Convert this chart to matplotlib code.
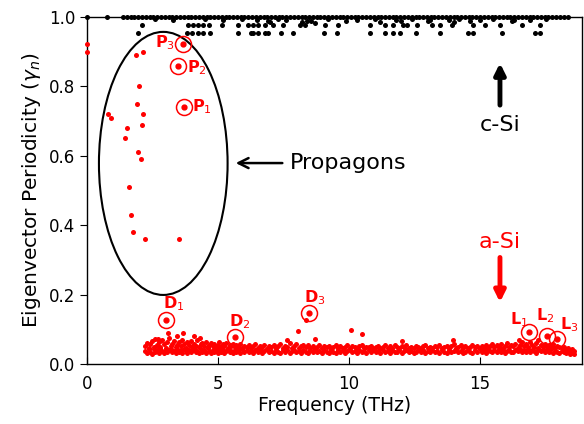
import numpy as np
import matplotlib.pyplot as plt
from matplotlib.patches import Ellipse

# c-Si modes: nearly all sit at gamma = 1
csi_top_freq = [0.0, 0.76, 1.37, 1.52, 1.66, 1.81, 1.95, 2.10, 2.24, 2.39, 2.53, 2.68, 2.82, 2.97,
                3.11, 3.26, 3.40, 3.55, 3.69, 3.84, 3.98, 4.13, 4.27, 4.42, 4.56, 4.71, 4.85, 5.00,
                5.14, 5.29, 5.43, 5.58, 5.72, 5.87, 6.01, 6.16, 6.30, 6.45, 6.59, 6.74, 6.88, 7.03,
                7.17, 7.32, 7.46, 7.61, 7.75, 7.90, 8.04, 8.19, 8.33, 8.48, 8.62, 8.77, 8.91, 9.06,
                9.20, 9.35, 9.49, 9.64, 9.78, 9.93, 10.07, 10.22, 10.36, 10.51, 10.65, 10.80, 10.94,
                11.09, 11.23, 11.38, 11.52, 11.67, 11.81, 11.96, 12.10, 12.25, 12.39, 12.54, 12.68,
                12.83, 12.97, 13.12, 13.26, 13.41, 13.55, 13.70, 13.84, 13.99, 14.13, 14.28, 14.42,
                14.57, 14.71, 14.86, 15.00, 15.15, 15.29, 15.44, 15.58, 15.73, 15.87, 16.02, 16.16,
                16.31, 16.45, 16.60, 16.74, 16.89, 17.03, 17.18, 17.32, 17.47, 17.61, 17.76, 17.90,
                18.05, 18.19, 18.34]
csi_top_gamma = 1.0

csi_near_freq = [2.6, 3.3, 4.5, 5.2, 5.9, 6.5, 6.9, 7.0, 7.3, 7.6, 8.2, 8.4, 8.55, 8.7, 9.2, 9.9,
                 10.3, 11.0, 11.2, 11.8, 12.0, 12.4, 13.0, 13.1, 13.8, 14.0, 14.2, 14.6, 15.0,
                 15.5, 16.2, 16.3, 16.9, 17.5]
csi_near_gamma = [0.993, 0.990, 0.993, 0.991, 0.994, 0.992, 0.988, 0.985, 0.993, 0.990, 0.986,
                  0.989, 0.987, 0.984, 0.993, 0.988, 0.990, 0.993, 0.986, 0.991, 0.988, 0.993,
                  0.987, 0.992, 0.990, 0.985, 0.993, 0.988, 0.991, 0.993, 0.987, 0.992, 0.990,
                  0.993]

csi_row2_freq = [2.10, 3.85, 4.05, 4.24, 4.43, 4.66, 5.15, 5.76, 6.15, 6.34, 6.53, 6.79, 7.10,
                 7.48, 8.13, 8.32, 9.08, 9.58, 10.80, 11.37, 11.68, 12.06, 12.21, 12.60, 13.17,
                 13.47, 13.93, 14.73, 15.19, 15.76, 16.60, 17.29]
csi_row2_gamma = 0.978

csi_row3_freq = [1.95, 3.82, 4.00, 4.24, 4.43, 4.69, 5.76, 6.26, 6.34, 6.53, 6.79, 6.91, 7.40,
                 7.86, 9.05, 9.54, 10.80, 11.37, 11.68, 11.95, 12.56, 13.47, 14.54, 14.73, 15.84,
                 17.10, 17.29]
csi_row3_gamma = 0.955

# a-Si propagons (low frequency, high periodicity)
prop_freq = [0.0, 0.0, 1.87, 2.15, 1.98, 1.91, 0.79, 0.92, 2.15, 2.11, 1.51, 1.44, 1.96, 2.07,
             1.59, 1.67, 1.76, 2.21, 3.51, 3.68, 3.49, 3.69]
prop_gamma = [0.922, 0.900, 0.890, 0.900, 0.800, 0.750, 0.720, 0.710, 0.720, 0.690, 0.680, 0.650,
              0.610, 0.590, 0.510, 0.430, 0.380, 0.360, 0.360, 0.921, 0.859, 0.741]

# a-Si diffusons / locons band
asi_freq = [2.21, 2.28, 2.35, 2.40, 2.47, 2.55, 2.60, 2.68, 2.74, 2.80, 2.87, 2.93, 3.00, 3.06, 3.12, 3.19, 3.25, 3.31, 3.38, 3.44,
            3.50, 3.57, 3.63, 3.70, 3.76, 3.82, 3.89, 3.95, 4.02, 4.08, 4.15, 4.21, 4.27, 4.34, 4.40, 4.47, 4.53, 4.60, 4.66, 4.72,
            4.79, 4.85, 4.92, 4.98, 5.05, 5.11, 5.18, 5.24, 5.31, 5.37, 5.44, 5.50, 5.57, 5.63, 5.70, 5.78, 5.85, 5.93, 6.01, 6.09,
            6.17, 6.26, 6.34, 6.43, 6.51, 6.60, 6.68, 6.77, 6.86, 6.94, 7.03, 7.12, 7.20, 7.29, 7.38, 7.47, 7.55, 7.64, 7.73, 7.82,
            7.90, 7.99, 8.08, 8.17, 8.25, 8.34, 8.43, 8.52, 8.61, 8.69, 8.78, 8.87, 8.96, 9.05, 9.14, 9.22, 9.31, 9.40, 9.49, 9.58,
            9.67, 9.76, 9.85, 9.94, 10.03, 10.12, 10.21, 10.30, 10.39, 10.48, 10.57, 10.66, 10.75, 10.84, 10.93, 11.02, 11.11, 11.20, 11.29, 11.38,
            11.47, 11.56, 11.65, 11.74, 11.83, 11.92, 12.01, 12.10, 12.19, 12.28, 12.37, 12.46, 12.55, 12.64, 12.73, 12.82, 12.91, 13.00, 13.09, 13.18,
            13.27, 13.36, 13.45, 13.54, 13.63, 13.72, 13.81, 13.90, 13.99, 14.08, 14.17, 14.26, 14.35, 14.44, 14.53, 14.62, 14.71, 14.80, 14.89, 14.98,
            15.07, 15.15, 15.23, 15.31, 15.39, 15.47, 15.55, 15.63, 15.71, 15.79, 15.87, 15.95, 16.03, 16.11, 16.19, 16.27, 16.35, 16.43, 16.51, 16.59,
            16.67, 16.75, 16.83, 16.91, 16.99, 17.07, 17.15, 17.23, 17.31, 17.39, 17.47, 17.55, 17.63, 17.71, 17.79, 17.87, 17.95, 18.03, 18.11, 18.19,
            18.27, 18.35, 18.43, 18.51, 18.58]
asi_gamma_hi = [0.052, 0.061, 0.047, 0.058, 0.066, 0.049, 0.071, 0.055, 0.063, 0.050, 0.068, 0.057, 0.046, 0.062, 0.074, 0.053, 0.059, 0.067, 0.048, 0.056,
                0.064, 0.051, 0.070, 0.058, 0.047, 0.062, 0.055, 0.066, 0.050, 0.059, 0.053, 0.068, 0.048, 0.057, 0.061, 0.052, 0.064, 0.049, 0.056, 0.060,
                0.051, 0.058, 0.047, 0.055, 0.062, 0.049, 0.057, 0.053, 0.060, 0.046, 0.056, 0.051, 0.059, 0.048, 0.054, 0.050, 0.057, 0.046, 0.053, 0.049,
                0.055, 0.047, 0.052, 0.058, 0.045, 0.051, 0.049, 0.056, 0.044, 0.053, 0.048, 0.055, 0.046, 0.051, 0.057, 0.045, 0.052, 0.049, 0.060, 0.047,
                0.053, 0.058, 0.046, 0.051, 0.056, 0.048, 0.054, 0.047, 0.052, 0.045, 0.050, 0.055, 0.046, 0.053, 0.048, 0.051, 0.044, 0.049, 0.054, 0.047,
                0.052, 0.045, 0.050, 0.056, 0.047, 0.053, 0.049, 0.045, 0.051, 0.055, 0.046, 0.050, 0.048, 0.053, 0.045, 0.049, 0.052, 0.046, 0.050, 0.054,
                0.047, 0.051, 0.045, 0.055, 0.049, 0.046, 0.052, 0.048, 0.054, 0.045, 0.050, 0.047, 0.053, 0.049, 0.045, 0.051, 0.056, 0.047, 0.050, 0.046,
                0.052, 0.048, 0.055, 0.046, 0.050, 0.053, 0.047, 0.051, 0.058, 0.045, 0.049, 0.054, 0.047, 0.052, 0.046, 0.050, 0.055, 0.048, 0.051, 0.046,
                0.053, 0.049, 0.056, 0.047, 0.052, 0.059, 0.048, 0.054, 0.050, 0.057, 0.046, 0.053, 0.060, 0.049, 0.055, 0.051, 0.058, 0.047, 0.054, 0.062,
                0.052, 0.058, 0.049, 0.064, 0.055, 0.050, 0.061, 0.047, 0.056, 0.052, 0.059, 0.048, 0.054, 0.050, 0.057, 0.046, 0.052, 0.049, 0.045, 0.050,
                0.044, 0.047, 0.041, 0.043, 0.038]
asi_gamma_lo = [0.038, 0.033, 0.042, 0.036, 0.030, 0.044, 0.035, 0.040, 0.032, 0.045, 0.037, 0.031, 0.041, 0.035, 0.039, 0.043, 0.034, 0.038, 0.031, 0.042,
                0.036, 0.040, 0.033, 0.044, 0.037, 0.031, 0.041, 0.035, 0.039, 0.043, 0.034, 0.038, 0.032, 0.042, 0.036, 0.040, 0.033, 0.045, 0.037, 0.031,
                0.041, 0.035, 0.039, 0.032, 0.043, 0.036, 0.040, 0.033, 0.038, 0.042, 0.034, 0.037, 0.031, 0.041, 0.035, 0.039, 0.032, 0.043, 0.036, 0.040,
                0.034, 0.038, 0.031, 0.041, 0.035, 0.039, 0.033, 0.037, 0.042, 0.034, 0.038, 0.031, 0.040, 0.036, 0.033, 0.039, 0.035, 0.041, 0.032, 0.037,
                0.040, 0.034, 0.038, 0.032, 0.041, 0.036, 0.033, 0.039, 0.035, 0.042, 0.034, 0.037, 0.031, 0.040, 0.036, 0.033, 0.039, 0.035, 0.032, 0.041,
                0.036, 0.039, 0.033, 0.037, 0.041, 0.034, 0.038, 0.032, 0.040, 0.035, 0.038, 0.033, 0.041, 0.036, 0.039, 0.034, 0.037, 0.031, 0.040, 0.035,
                0.038, 0.033, 0.040, 0.036, 0.034, 0.039, 0.032, 0.037, 0.041, 0.035, 0.038, 0.033, 0.036, 0.040, 0.034, 0.039, 0.032, 0.037, 0.035, 0.041,
                0.034, 0.038, 0.032, 0.040, 0.036, 0.033, 0.039, 0.035, 0.037, 0.041, 0.034, 0.038, 0.032, 0.036, 0.040, 0.035, 0.033, 0.039, 0.036, 0.042,
                0.035, 0.039, 0.033, 0.041, 0.037, 0.034, 0.040, 0.036, 0.043, 0.035, 0.039, 0.032, 0.038, 0.041, 0.036, 0.034, 0.040, 0.037, 0.043, 0.035,
                0.039, 0.036, 0.042, 0.034, 0.040, 0.037, 0.033, 0.041, 0.038, 0.044, 0.035, 0.039, 0.036, 0.042, 0.033, 0.038, 0.035, 0.032, 0.037, 0.034,
                0.031, 0.035, 0.030, 0.033, 0.029]

# scattered a-Si modes above the band
asi_extra_freq = [2.70, 3.10, 3.45, 3.67, 4.10, 4.30, 7.65, 8.05, 8.36, 8.70, 10.06, 10.48, 12.01,
                  13.97, 16.50, 17.20]
asi_extra_gamma = [0.072, 0.089, 0.080, 0.089, 0.082, 0.075, 0.070, 0.096, 0.127, 0.072, 0.098,
                   0.086, 0.067, 0.069, 0.068, 0.070]

# highlighted modes: label, frequency, gamma, label position
marked = [
    ('P$_1$', 3.69, 0.741, 4.00, 0.741, 'left'),
    ('P$_2$', 3.49, 0.859, 3.82, 0.855, 'left'),
    ('P$_3$', 3.68, 0.921, 3.35, 0.925, 'right'),
    ('D$_1$', 3.02, 0.128, 2.90, 0.175, 'left'),
    ('D$_2$', 5.66, 0.078, 5.40, 0.121, 'left'),
    ('D$_3$', 8.46, 0.148, 8.30, 0.190, 'left'),
    ('L$_1$', 16.88, 0.092, 16.15, 0.127, 'left'),
    ('L$_2$', 17.55, 0.082, 17.15, 0.138, 'left'),
    ('L$_3$', 17.93, 0.071, 18.05, 0.112, 'left'),
]

red = '#ff0000'

fig = plt.figure(figsize=(5.84, 4.24), dpi=100)
ax = fig.add_axes([0.149, 0.1415, 0.848, 0.8185])

dot = dict(s=13, linewidths=0, clip_on=False, zorder=3)
ax.scatter(csi_top_freq, np.full(len(csi_top_freq), csi_top_gamma), color='black', **dot)
ax.scatter(csi_near_freq, csi_near_gamma, color='black', **dot)
ax.scatter(csi_row2_freq, np.full(len(csi_row2_freq), csi_row2_gamma), color='black', **dot)
ax.scatter(csi_row3_freq, np.full(len(csi_row3_freq), csi_row3_gamma), color='black', **dot)

ax.scatter(prop_freq, prop_gamma, color=red, **dot)
ax.scatter(asi_freq, asi_gamma_hi, color=red, **dot)
ax.scatter(asi_freq, asi_gamma_lo, color=red, **dot)
ax.scatter(asi_extra_freq, asi_extra_gamma, color=red, **dot)

for label, f, g, tx, ty, ha in marked:
    ax.plot(f, g, 'o', ms=3.5, color=red, zorder=4)
    ax.plot(f, g, 'o', ms=11.5, mfc='none', mec=red, mew=1.1, zorder=4)
    ax.text(tx, ty, label, color=red, fontsize=11.5, fontweight='bold',
            ha=ha, va='center')

ax.add_patch(Ellipse((2.91, 0.578), 4.91, 0.758, fill=False, ec='black', lw=1.5))

ax.annotate('', xy=(5.57, 0.579), xytext=(7.56, 0.579),
            arrowprops=dict(arrowstyle='->', color='black', lw=1.8, mutation_scale=18))
ax.text(7.75, 0.579, 'Propagons', fontsize=16, va='center', ha='left')

ax.annotate('', xy=(15.76, 0.875), xytext=(15.76, 0.738),
            arrowprops=dict(arrowstyle='-|>', color='black', lw=3.5, mutation_scale=16))
ax.text(15.76, 0.69, 'c-Si', fontsize=16, ha='center', va='center')

ax.annotate('', xy=(15.76, 0.17), xytext=(15.76, 0.315),
            arrowprops=dict(arrowstyle='-|>', color=red, lw=3.5, mutation_scale=16))
ax.text(15.76, 0.352, 'a-Si', fontsize=16, color=red, ha='center', va='center')

ax.set_xlim(0, 18.9)
ax.set_ylim(0, 1.0)
ax.set_xticks([0, 5, 10, 15])
ax.set_yticks([0.0, 0.2, 0.4, 0.6, 0.8, 1.0])
ax.set_yticklabels(['0.0', '0.2', '0.4', '0.6', '0.8', '1.0'])
ax.tick_params(axis='x', direction='in', length=5, labelsize=12, pad=8)
ax.tick_params(axis='y', direction='out', length=5, labelsize=12)
ax.set_xlabel('Frequency (THz)', fontsize=13.5, labelpad=2)
ax.set_ylabel(r'Eigenvector Periodicity ($\gamma_n$)', fontsize=14.5)
for sp in ax.spines.values():
    sp.set_linewidth(1.0)

fig.savefig('out.png', dpi=100)
